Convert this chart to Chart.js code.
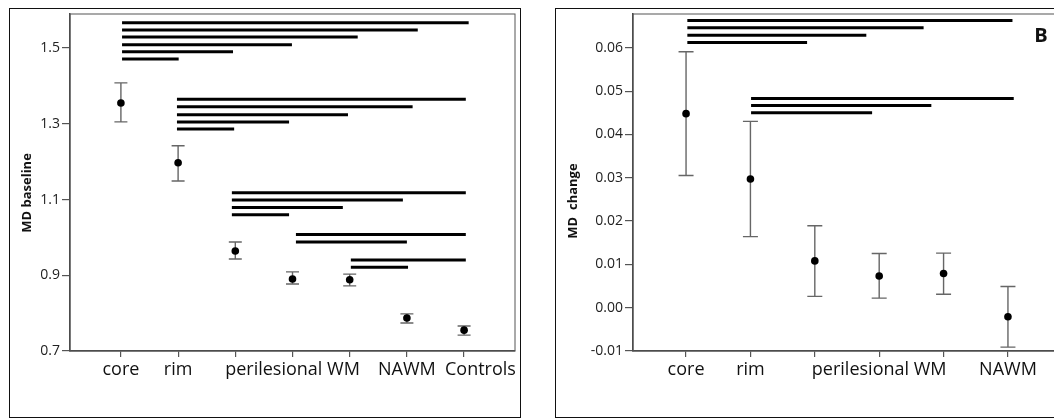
<!DOCTYPE html>
<html>
<head>
<meta charset="utf-8">
<script src="https://cdn.jsdelivr.net/npm/chart.js@4.4.0/dist/chart.umd.min.js"></script>
<style>
html, body { margin: 0; padding: 0; background: #fff; overflow: hidden; }
#wrap { position: relative; width: 1054px; height: 419px; overflow: hidden; }
.marco { position: absolute; border: 1px solid #111; box-sizing: border-box; }
canvas { position: absolute; top: 0; }
</style>
</head>
<body>
<div id="wrap">
    <div class="marco" style="left:9px;top:8px;width:512px;height:410px"></div>
    <div class="marco" style="left:555px;top:8px;width:530px;height:410px"></div>
    <canvas id="graficoA" width="530" height="419" style="left:0"></canvas>
    <canvas id="graficoB" width="540" height="419" style="left:540px"></canvas>
</div>
<script>
// Panel A: MD baseline
const categoriasA = ["core", "rim", "", "perilesional WM", "", "NAWM", "Controls"];
const mediasA = [1.355, 1.197, 0.964, 0.890, 0.888, 0.787, 0.755];
const bajosA = [1.305, 1.149, 0.943, 0.877, 0.872, 0.774, 0.742];
const altosA = [1.408, 1.242, 0.988, 0.909, 0.903, 0.798, 0.766];
const ticksA = [0.7, 0.9, 1.1, 1.3, 1.5];
// comparaciones significativas: [desde, hasta, nivel]
const sigA = [
    [0.02, 6.08, 1.567], [0.02, 5.19, 1.548], [0.02, 4.14, 1.529],
    [0.02, 2.99, 1.509], [0.02, 1.96, 1.490], [0.02, 1.01, 1.471],
    [0.98, 6.03, 1.365], [0.98, 5.10, 1.345], [0.98, 3.97, 1.324],
    [0.98, 2.94, 1.305], [0.98, 1.98, 1.286],
    [1.94, 6.03, 1.118], [1.94, 4.93, 1.099], [1.94, 3.88, 1.079], [1.94, 2.94, 1.060],
    [3.06, 6.03, 1.008], [3.06, 5.00, 0.988],
    [4.02, 6.03, 0.940], [4.02, 5.02, 0.921],
];

// Panel B: MD change
const categoriasB = ["core", "rim", "", "perilesional WM", "", "NAWM"];
const mediasB = [0.0448, 0.0297, 0.0108, 0.0073, 0.0079, -0.0021];
const bajosB = [0.0305, 0.0164, 0.0026, 0.0022, 0.0031, -0.0091];
const altosB = [0.0591, 0.0430, 0.0189, 0.0125, 0.0126, 0.0049];
const ticksB = [-0.01, 0.00, 0.01, 0.02, 0.03, 0.04, 0.05, 0.06];
const sigB = [
    [0.02, 5.07, 0.0663], [0.02, 3.69, 0.0646], [0.02, 2.80, 0.0629], [0.02, 1.88, 0.0612],
    [1.01, 5.09, 0.0483], [1.01, 3.81, 0.0467], [1.01, 2.89, 0.0450],
];

const fuente = "'Open Sans', 'DejaVu Sans', sans-serif";

const pluginErrores = {
    id: "barrasError",
    beforeDatasetsDraw(chart, args, opts) {
        const { ctx, chartArea: a } = chart;
        const x = chart.scales.x, y = chart.scales.y;
        ctx.save();
        ctx.strokeStyle = "#555";
        ctx.lineWidth = 1;
        ctx.strokeRect(a.left, a.top, a.right - a.left, a.bottom - a.top);
        ctx.strokeStyle = "#666";
        ctx.lineWidth = 1.4;
        opts.bajos.forEach((b, i) => {
            const px = x.getPixelForValue(i);
            const y1 = y.getPixelForValue(b);
            const y2 = y.getPixelForValue(opts.altos[i]);
            ctx.beginPath();
            ctx.moveTo(px, y1); ctx.lineTo(px, y2);
            ctx.moveTo(px - opts.tapa, y1); ctx.lineTo(px + opts.tapa, y1);
            ctx.moveTo(px - opts.tapa, y2); ctx.lineTo(px + opts.tapa, y2);
            ctx.stroke();
        });
        ctx.restore();
    },
    afterDraw(chart, args, opts) {
        const ctx = chart.ctx;
        ctx.save();
        ctx.fillStyle = "#111";
        ctx.font = "bold 13px " + fuente;
        ctx.textAlign = "center";
        ctx.textBaseline = "middle";
        ctx.translate(opts.tituloX, opts.tituloY);
        ctx.rotate(-Math.PI / 2);
        ctx.fillText(opts.titulo, 0, 0);
        ctx.restore();
        if (opts.letra) {
            ctx.save();
            ctx.fillStyle = "#111";
            ctx.font = "bold 20px " + fuente;
            ctx.textAlign = "center";
            ctx.textBaseline = "middle";
            ctx.fillText(opts.letra, opts.letraX, opts.letraY);
            ctx.restore();
        }
    },
};

function crearGrafico(id, cfg) {
    const ctx = document.getElementById(id).getContext("2d");
    const lineas = cfg.sig.map((s) => ({
        data: [{ x: s[0], y: s[2] }, { x: s[1], y: s[2] }],
        showLine: true,
        borderColor: "#000",
        borderWidth: 3,
        borderCapStyle: "butt",
        pointRadius: 0,
    }));

    new Chart(ctx, {
        type: "scatter",
        data: {
            datasets: [
                {
                    data: cfg.medias.map((m, i) => ({ x: i, y: m })),
                    backgroundColor: "#000",
                    borderColor: "#000",
                    pointRadius: 3.8,
                    borderWidth: 0,
                },
                ...lineas,
            ],
        },
        options: {
            responsive: false,
            animation: false,
            devicePixelRatio: 1,
            layout: {
                autoPadding: false,
                padding: { left: 0, top: 14, right: cfg.derecha, bottom: 0 },
            },
            plugins: {
                legend: { display: false },
                tooltip: { enabled: false },
                barrasError: cfg.errores,
            },
            scales: {
                x: {
                    type: "linear",
                    min: cfg.xMin,
                    max: cfg.xMax,
                    afterBuildTicks: (s) => {
                        s.ticks = cfg.categorias.map((_, i) => ({ value: i }));
                    },
                    afterFit: (s) => { s.height = 68; },
                    grid: { drawOnChartArea: false, tickLength: 6, color: "#555", lineWidth: 1.2 },
                    border: { color: "#444", width: 1.5 },
                    ticks: {
                        // la etiqueta "Controls" va corrida a la derecha como en el original
                        callback: (v) => {
                            const t = cfg.categorias[Math.round(v)] ?? "";
                            return t === "Controls" ? "       " + t : t;
                        },
                        font: { family: fuente, size: 18 },
                        color: "#111",
                        padding: 2,
                        maxRotation: 0,
                        autoSkip: false,
                    },
                },
                y: {
                    min: cfg.yMin,
                    max: cfg.yMax,
                    afterBuildTicks: (s) => {
                        s.ticks = cfg.yTicks.map((v) => ({ value: v }));
                    },
                    afterFit: (s) => { s.width = cfg.anchoY; },
                    grid: { drawOnChartArea: false, tickLength: 8, color: "#555", lineWidth: 1.2 },
                    border: { color: "#444", width: 1.5 },
                    ticks: {
                        callback: (v) => v.toFixed(cfg.dec),
                        font: { family: fuente, size: 14 },
                        color: "#222",
                        padding: 2,
                    },
                },
            },
        },
        plugins: [pluginErrores],
    });
}

crearGrafico("graficoA", {
    categorias: categoriasA, medias: mediasA, sig: sigA, yTicks: ticksA,
    xMin: -0.89, xMax: 6.89, yMin: 0.7, yMax: 1.59, dec: 1,
    anchoY: 70, derecha: 15,
    errores: { bajos: bajosA, altos: altosA, tapa: 6.5, titulo: "MD baseline", tituloX: 27, tituloY: 193 },
});

crearGrafico("graficoB", {
    categorias: categoriasB, medias: mediasB, sig: sigB, yTicks: ticksB,
    xMin: -0.824, xMax: 5.824, yMin: -0.01, yMax: 0.0678, dec: 2,
    anchoY: 93, derecha: 19,
    errores: {
        bajos: bajosB, altos: altosB, tapa: 7.5, titulo: "MD  change", tituloX: 33, tituloY: 201,
        letra: "B", letraX: 501, letraY: 36,
    },
});
</script>
</body>
</html>
